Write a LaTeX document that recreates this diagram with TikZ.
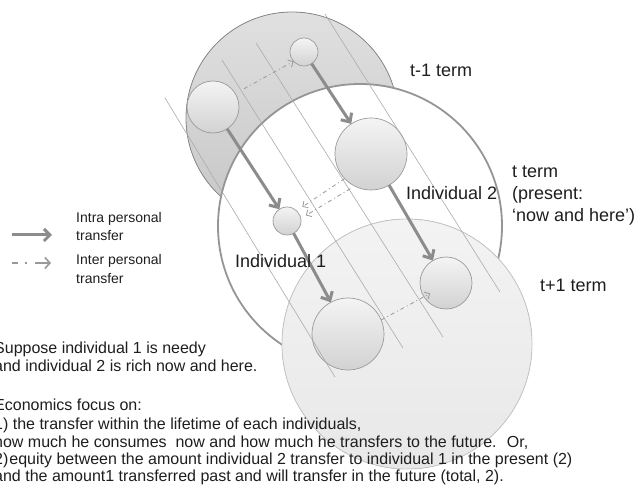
\documentclass[tikz,border=0pt]{standalone}
\usepackage{fontspec}
\setmainfont{Liberation Sans}
\usetikzlibrary{arrows.meta,calc}
\definecolor{pastTop}{HTML}{E0E0E0}
\definecolor{pastBot}{HTML}{C6C6C6}
\definecolor{pastEdge}{HTML}{8A8A8A}
\definecolor{nowEdge}{HTML}{959595}
\definecolor{futTop}{HTML}{F3F3F3}
\definecolor{futBot}{HTML}{E8E8E8}
\definecolor{futEdge}{HTML}{C6C6C6}
\definecolor{indTop}{HTML}{F4F4F4}
\definecolor{indBot}{HTML}{D2D2D2}
\definecolor{indEdge}{HTML}{9A9A9A}
\definecolor{arrowGray}{HTML}{8C8C8C}
\definecolor{dashGray}{HTML}{999999}
\definecolor{lifeGray}{HTML}{ABABAB}
\definecolor{txt}{HTML}{1E1E1E}
\begin{document}
\begin{tikzpicture}[x=1pt,y=-1pt,
  lbl/.style={font=\fontsize{18}{21}\selectfont, inner sep=0pt, anchor=base west, text=txt},
  body/.style={font=\fontsize{16}{18}\selectfont, inner sep=0pt, anchor=base west, text=txt},
  leg/.style={font=\fontsize{14}{17}\selectfont, inner sep=0pt, anchor=base west, text=txt},
  ind/.style={circle, draw=indEdge, line width=0.7pt, top color=indTop, bottom color=indBot, inner sep=0pt, outer sep=0pt},
  intra/.style={draw=arrowGray, line width=3pt, -{Straight Barb[length=7pt,width=13pt]}},
  inter/.style={draw=dashGray, line width=0.8pt, dash pattern=on 4pt off 3pt on 1pt off 3pt, -{Straight Barb[length=4pt,width=8pt]}},
  life/.style={draw=lifeGray, line width=0.6pt}
]
\useasboundingbox (0,0) rectangle (643,489);
% term circles
\fill[top color=pastTop, bottom color=pastBot] (292,118) circle[radius=106pt];
\draw[pastEdge, line width=0.8pt] (292,118) circle[radius=106pt];
\filldraw[fill=white, draw=nowEdge, line width=1.8pt] (360,226) circle[radius=142pt];
\fill[top color=futTop, bottom color=futBot] (407,344) circle[radius=125pt];
\draw[futEdge, line width=0.8pt] (407,344) circle[radius=125pt];
% individuals
\node[ind, minimum size=28pt] (c1) at (304,52) {};
\node[ind, minimum size=52pt] (c2) at (213,107) {};
\node[ind, minimum size=72pt] (c3) at (371,154) {};
\node[ind, minimum size=28pt] (c4) at (287,221) {};
\node[ind, minimum size=72pt] (c5) at (348,334) {};
\node[ind, minimum size=52pt] (c6) at (446,283) {};
% lifelines
\coordinate (l1a) at (165,98);  \coordinate (l1b) at (335,377);
\coordinate (l2a) at (222,60);  \coordinate (l2b) at (403,348);
\coordinate (l3a) at (256,43);  \coordinate (l3b) at (443,337);
\coordinate (l4a) at (325,14);  \coordinate (l4b) at (500,292);
\draw[life] (l1a) -- (l1b);
\draw[life] (l2a) -- (l2b);
\draw[life] (l3a) -- (l3b);
\draw[life] (l4a) -- (l4b);
% intra personal transfers
\draw[intra] (c2) -- (c4);
\draw[intra] (c1) -- (c3);
\draw[intra] (c3) -- (c6);
\draw[intra] (c4) -- (c5);
% inter personal transfers
\draw[inter, shorten <=10pt] (c2.31) -- (c1.222);
\draw[inter, shorten >=7pt] (c3.223) -- (c4.47);
\draw[inter, shorten <=5pt, shorten >=6pt] (c3.243) -- (c4.10);
\draw[inter, shorten >=-7pt] (c5.23) -- (c6.212);
% labels
\node[lbl] (tm1) at (410,76.5) {t-1 term};
\node[lbl] (tt1) at (512,178) {t term};
\node[lbl] (tt2) at (512,200) {(present:};
\node[lbl] (tt3) at (512,221.5) {‘now and here’)};
\node[lbl] (tp1) at (540,291.5) {t+1 term};
\node[lbl] (i2) at (406,200) {Individual 2};
\node[lbl] (i1) at (235,268) {Individual 1};
% legend
\coordinate (la) at (12,235); \coordinate (lb) at (52,235);
\coordinate (lc) at (12,263); \coordinate (ld) at (51,263);
\draw[draw=arrowGray, line width=3pt, -{Straight Barb[length=6pt,width=12pt]}] (la) -- (lb);
\draw[draw=dashGray, line width=1.6pt, dash pattern=on 6pt off 7pt on 2pt off 8pt on 20pt off 1pt, -{Straight Barb[length=5pt,width=11pt]}] (lc) -- (ld);
\node[leg] (lg1) at (76,222.4) {Intra personal};
\node[leg] (lg2) at (76,240.7) {transfer};
\node[leg] (lg3) at (76,265) {Inter personal};
\node[leg] (lg4) at (76,283.3) {transfer};
% body text
\node[body] (b1) at (-6,353.3) {Suppose individual 1 is needy};
\node[body] (b2) at (-6,371.7) {and individual 2 is rich now and here.};
\node[body] (b3) at (-6,410.7) {Economics focus on:};
\node[body] (b4) at (-6,429.3) {1) the transfer within the lifetime of each individuals,};
\node[body] (b5) at (-6,447.3) {how much he consumes \ now and how much he transfers to the future. \ Or,};
\node[body] (b6) at (-6,464) {2)\kern1pt equity between the amount individual 2 transfer to individual 1 in the present (2)};
\node[body] (b7) at (-6,481.7) {and the amount1 transferred past and will transfer in the future (total, 2).};
\end{tikzpicture}
\end{document}
